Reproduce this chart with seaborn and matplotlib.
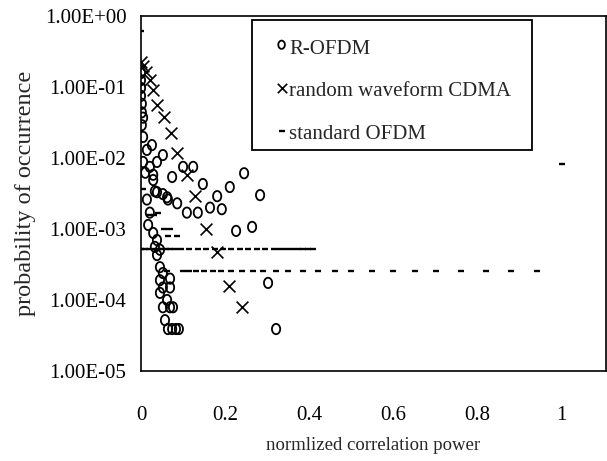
import numpy as np
import matplotlib
matplotlib.use("Agg")
import matplotlib.pyplot as plt
from matplotlib.path import Path
from matplotlib.patches import Rectangle
import pandas as pd
import seaborn as sns

# R-OFDM (circles)
rofdm_x = [0.000, 0.000, 0.000, 0.000, 0.002, 0.002, 0.005, 0.002, 0.005, 0.014,
           0.005, 0.021, 0.010, 0.029, 0.038, 0.062, 0.014, 0.021, 0.017, 0.029,
           0.038, 0.033, 0.038, 0.045, 0.052, 0.045, 0.052, 0.045, 0.062, 0.052,
           0.069, 0.057, 0.069, 0.069, 0.076, 0.045,
           0.026, 0.052, 0.038, 0.029, 0.074, 0.100, 0.124, 0.147, 0.211, 0.245,
           0.283, 0.181, 0.164, 0.192, 0.135, 0.109, 0.086, 0.064, 0.052, 0.033,
           0.226, 0.264, 0.302, 0.321,
           0.064, 0.074, 0.083, 0.090]
rofdm_y = [1.57e-01, 1.25e-01, 9.7e-02, 7.5e-02, 5.8e-02, 4.4e-02, 3.7e-02, 2.9e-02, 1.98e-02, 1.30e-02,
           8.8e-03, 7.5e-03, 6.2e-03, 4.9e-03, 3.3e-03, 2.8e-03, 2.6e-03, 1.7e-03, 1.14e-03, 8.8e-04,
           7.0e-04, 5.6e-04, 4.3e-04, 2.9e-04, 2.4e-04, 1.9e-04, 1.5e-04, 1.26e-04, 1.0e-04, 7.9e-05,
           7.9e-05, 5.2e-05, 2.0e-04, 1.5e-04, 7.9e-05, 5.1e-04,
           1.52e-02, 1.10e-02, 8.8e-03, 5.8e-03, 5.4e-03, 7.5e-03, 7.5e-03, 4.3e-03, 3.9e-03, 6.1e-03,
           3.0e-03, 2.9e-03, 2.0e-03, 1.9e-03, 1.7e-03, 1.7e-03, 2.3e-03, 2.6e-03, 3.1e-03, 3.4e-03,
           9.4e-04, 1.07e-03, 1.74e-04, 3.9e-05,
           3.9e-05, 3.9e-05, 3.9e-05, 3.9e-05]

# random waveform CDMA (crosses)
cdma_x = [0.000, 0.005, 0.012, 0.021, 0.029, 0.038, 0.055, 0.071, 0.086, 0.109,
          0.128, 0.154, 0.181, 0.209, 0.240]
cdma_y = [2.25e-01, 1.98e-01, 1.63e-01, 1.25e-01, 9.1e-02, 5.6e-02, 3.8e-02, 2.25e-02,
          1.18e-02, 5.8e-03, 2.9e-03, 1.0e-03, 4.7e-04, 1.6e-04, 7.9e-05]

# standard OFDM (dashes)
std_x = [0.000, 0.005, 0.020, 0.030, 0.040, 0.055, 0.070, 0.065, 0.085,
         0.000, 0.010, 0.020, 0.030, 0.040, 0.050, 0.060, 0.070, 0.080, 0.095,
         0.115, 0.135, 0.155, 0.175, 0.195, 0.215, 0.235, 0.255, 0.275, 0.295,
         0.315, 0.330, 0.345, 0.360, 0.372, 0.384, 0.396, 0.408,
         0.062, 0.100, 0.115, 0.130, 0.150, 0.170, 0.190, 0.215, 0.240, 0.265,
         0.290, 0.320, 0.350, 0.385, 0.420, 0.460, 0.500, 0.550, 0.600, 0.650,
         0.700, 0.760, 0.820, 0.880, 0.940,
         1.000]
std_y = [6.2e-01, 3.7e-03, 1.6e-03, 1.6e-03, 1.7e-03, 1.0e-03, 1.0e-03, 7.9e-04, 7.9e-04,
         5.2e-04, 5.2e-04, 5.2e-04, 5.2e-04, 5.2e-04, 5.2e-04, 5.2e-04, 5.2e-04, 5.2e-04, 5.2e-04,
         5.2e-04, 5.2e-04, 5.2e-04, 5.2e-04, 5.2e-04, 5.2e-04, 5.2e-04, 5.2e-04, 5.2e-04, 5.2e-04,
         5.2e-04, 5.2e-04, 5.2e-04, 5.2e-04, 5.2e-04, 5.2e-04, 5.2e-04, 5.2e-04,
         2.6e-04, 2.6e-04, 2.6e-04, 2.6e-04, 2.6e-04, 2.6e-04, 2.6e-04, 2.6e-04, 2.6e-04, 2.6e-04,
         2.6e-04, 2.6e-04, 2.6e-04, 2.6e-04, 2.6e-04, 2.6e-04, 2.6e-04, 2.6e-04, 2.6e-04, 2.6e-04,
         2.6e-04, 2.6e-04, 2.6e-04, 2.6e-04, 2.6e-04,
         8.3e-03]

x_ticks = [0, 0.2, 0.4, 0.6, 0.8, 1]
x_labels = ["0", "0.2", "0.4", "0.6", "0.8", "1"]
y_ticks = [1e0, 1e-1, 1e-2, 1e-3, 1e-4, 1e-5]
y_labels = ["1.00E+00", "1.00E-01", "1.00E-02", "1.00E-03", "1.00E-04", "1.00E-05"]

sns.set_style("white")
plt.rcParams["font.family"] = ["Liberation Serif", "DejaVu Serif"]

# slightly tall open circle, as in the reference
t = np.linspace(0, 2 * np.pi, 60)
oval = Path(np.column_stack([0.8 * np.cos(t), np.sin(t)]))

fig = plt.figure(figsize=(6.07, 4.61), dpi=100)
ax = fig.add_axes([141 / 607, 1 - 371 / 461, 465 / 607, 355 / 461])

df_r = pd.DataFrame({"x": rofdm_x, "y": rofdm_y})
df_c = pd.DataFrame({"x": cdma_x, "y": cdma_y})
df_s = pd.DataFrame({"x": std_x, "y": std_y})

sns.scatterplot(data=df_s, x="x", y="y", ax=ax, marker="_", s=22, color="black",
                linewidth=1.7, label="standard OFDM", zorder=3)
sns.scatterplot(data=df_c, x="x", y="y", ax=ax, marker="x", s=72, color="black",
                linewidth=1.2, label="random waveform CDMA", zorder=4)
sns.scatterplot(data=df_r, x="x", y="y", ax=ax, marker=oval, s=55, facecolors="none",
                edgecolor="black", linewidth=1.3, label="R-OFDM", zorder=5)

ax.set_yscale("log")
ax.set_xlim(0, 1.105)
ax.set_ylim(1e-5, 1e0)
ax.set_xticks(x_ticks)
ax.set_xticklabels(x_labels)
ax.set_yticks(y_ticks)
ax.set_yticklabels(y_labels)
ax.yaxis.set_minor_locator(matplotlib.ticker.NullLocator())
ax.tick_params(axis="both", direction="inout", length=11, width=1, colors="black",
               labelsize=15)
ax.tick_params(axis="x", pad=20)
ax.tick_params(axis="y", pad=5)
for sp in ax.spines.values():
    sp.set_visible(True)
    sp.set_color("black")
    sp.set_linewidth(1.2)

ax.set_xlabel("normlized correlation power", fontsize=13.5, labelpad=8)
ax.set_ylabel("probability of occurrence", fontsize=17.5, labelpad=6)

h, l = ax.get_legend_handles_labels()
order = [2, 1, 0]
leg = ax.legend([h[i] for i in order], [l[i] for i in order], loc="upper left",
                bbox_to_anchor=(111 / 465, (371 - 26) / 355), borderaxespad=0,
                fontsize=15, frameon=False, handlelength=1.6, handletextpad=-0.45,
                borderpad=0.62, labelspacing=1.12, markerscale=0.8,
                scatteryoffsets=[0.6])

# legend box drawn on its own so the rows can sit as in the reference
fig.add_artist(Rectangle((252 / 607, 1 - 150 / 461), 280 / 607, 130 / 461,
                         transform=fig.transFigure, fill=False, edgecolor="black",
                         linewidth=1.3, zorder=6))

fig.savefig("out.png", dpi=100)
